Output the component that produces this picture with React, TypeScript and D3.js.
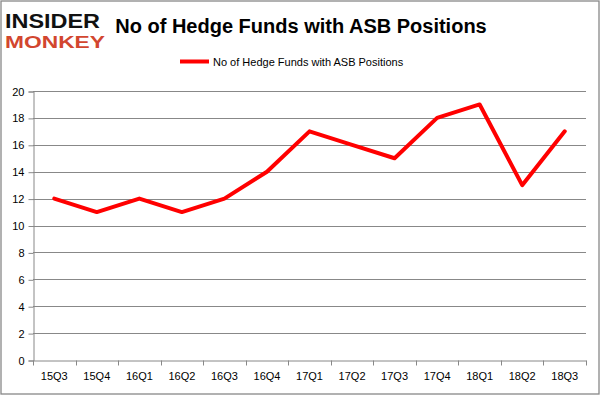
import React, { useEffect, useRef } from 'react';
import * as d3 from 'd3';

const quarters = ['15Q3', '15Q4', '16Q1', '16Q2', '16Q3', '16Q4', '17Q1', '17Q2', '17Q3', '17Q4', '18Q1', '18Q2', '18Q3'];
const funds = [12, 11, 12, 11, 12, 14, 17, 16, 15, 18, 19, 13, 17];
const yTicks = [0, 2, 4, 6, 8, 10, 12, 14, 16, 18, 20];
const seriesName = 'No of Hedge Funds with ASB Positions';

const W = 601, H = 396;
const margin = { top: 91, right: 15, bottom: 36, left: 33 };
const font = '"Liberation Sans", Arial, sans-serif';

export default function App() {
  const ref = useRef<SVGSVGElement>(null);

  useEffect(() => {
    const svg = d3.select(ref.current);
    svg.selectAll('*').remove();

    // outer frame
    svg.append('rect')
      .attr('x', 1).attr('y', 1).attr('width', 598).attr('height', 393)
      .attr('fill', 'white').attr('stroke', '#888').attr('stroke-width', 1.3);

    // logo: tall condensed letters, stretched vertically
    svg.append('text')
      .attr('transform', 'translate(5,28) scale(1,1.45)')
      .attr('font-family', font).attr('font-weight', 'bold').attr('font-size', 13.5)
      .attr('fill', '#111').attr('textLength', 95).attr('lengthAdjust', 'spacingAndGlyphs')
      .text('INSIDER');
    svg.append('text')
      .attr('transform', 'translate(5,48) scale(1,1.2)')
      .attr('font-family', font).attr('font-weight', 'bold').attr('font-size', 13.5)
      .attr('fill', '#d2462f').attr('textLength', 100).attr('lengthAdjust', 'spacingAndGlyphs')
      .text('MONKEY');

    // title
    svg.append('text').attr('x', 301).attr('y', 33)
      .attr('text-anchor', 'middle')
      .attr('font-family', font).attr('font-weight', 'bold').attr('font-size', 20)
      .attr('fill', '#000')
      .text(seriesName);

    // legend
    svg.append('line').attr('x1', 180).attr('x2', 209).attr('y1', 61.5).attr('y2', 61.5)
      .attr('stroke', '#ff0000').attr('stroke-width', 4);
    svg.append('text').attr('x', 213).attr('y', 65.5)
      .attr('font-family', font).attr('font-size', 11).attr('fill', '#000')
      .text(seriesName);

    const x = d3.scaleBand().domain(quarters).range([margin.left, W - margin.right]).padding(0);
    const y = d3.scaleLinear().domain([0, 20]).range([H - margin.bottom, margin.top]);

    const g = svg.append('g');

    // gridlines
    g.selectAll('.grid').data(yTicks.filter(t => t > 0)).join('line')
      .attr('x1', margin.left).attr('x2', W - margin.right)
      .attr('y1', d => Math.round(y(d)) + 0.5).attr('y2', d => Math.round(y(d)) + 0.5)
      .attr('stroke', '#888').attr('stroke-width', 1);

    // y axis
    const yAxis = g.append('g')
      .attr('transform', `translate(${margin.left + 0.5},0.5)`)
      .call(d3.axisLeft(y).tickValues(yTicks).tickSize(5).tickPadding(4));
    yAxis.select('.domain').attr('stroke', '#888');
    yAxis.selectAll('.tick line').attr('stroke', '#888');
    yAxis.selectAll('.tick text').attr('font-family', font).attr('font-size', 11).attr('fill', '#000');

    // x axis
    const xAxis = g.append('g')
      .attr('transform', `translate(0,${Math.round(y(0)) + 0.5})`)
      .call(d3.axisBottom(x).tickSize(0).tickPadding(12));
    xAxis.select('.domain').attr('stroke', '#888');
    xAxis.selectAll('.tick text').attr('font-family', font).attr('font-size', 11).attr('fill', '#000');
    xAxis.selectAll('.bound').data([...quarters.map(q => x(q) as number), W - margin.right]).join('line')
      .attr('class', 'bound')
      .attr('x1', d => Math.round(d) + 0.5).attr('x2', d => Math.round(d) + 0.5)
      .attr('y1', 0).attr('y2', 5).attr('stroke', '#888');

    // series line
    const line = d3.line<number>()
      .x((_, i) => (x(quarters[i]) as number) + x.bandwidth() / 2)
      .y(d => y(d));
    g.append('path').datum(funds)
      .attr('d', line)
      .attr('fill', 'none').attr('stroke', '#ff0000').attr('stroke-width', 4)
      .attr('stroke-linejoin', 'round').attr('stroke-linecap', 'round');
  }, []);

  return (
    <svg ref={ref} width={W} height={H} style={{ position: 'absolute', left: 0, top: 0, background: 'white' }} />
  );
}
